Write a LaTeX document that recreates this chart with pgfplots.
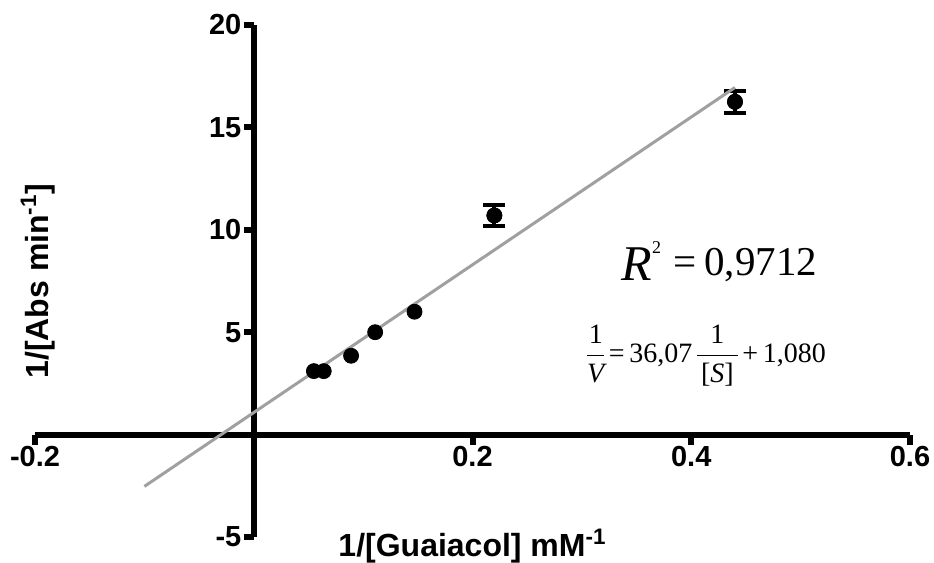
\documentclass[border=0pt]{standalone}
\usepackage{fontspec}
\setmainfont{Liberation Sans}
\newfontfamily\timesfont{Liberation Serif}
\usepackage{pgfplots}
\pgfplotsset{compat=1.18}
\definecolor{fitgray}{HTML}{A0A0A0}
\begin{document}
\begin{tikzpicture}
\useasboundingbox (-17.5pt,-13pt) rectangle (449.5pt,268.5pt);
\begin{axis}[
  width=437.5pt, height=256pt, scale only axis,
  axis lines=middle,
  axis line style={-, line width=3pt},
  xmin=-0.2, xmax=0.6, ymin=-5, ymax=20,
  xtick={-0.2,0,0.2,0.4,0.6},
  ytick={-5,0,5,10,15,20},
  tick align=outside,
  major tick length=5pt,
  tick style={line width=3pt, black},
  /pgf/number format/assume math mode=true,
  /pgf/number format/fixed,
  tick label style={font=\bfseries\fontsize{14.5}{16}\selectfont},
  xticklabel style={inner sep=0.5pt},
  yticklabel style={inner sep=1pt},
  every axis x label/.style={at={(axis description cs:0.5,0)}, anchor=base, yshift=-10pt},
  every axis y label/.style={at={(axis description cs:0,0.5)}, rotate=90, anchor=center, yshift=-1.5pt},
  label style={font=\bfseries\fontsize{16}{18}\selectfont},
  xlabel={1/[Guaiacol] mM\textsuperscript{-1}},
  ylabel={1/[Abs min\textsuperscript{-1}]},
  clip=false,
]
% mean values
\addplot[only marks, mark=*, mark size=3.75pt, black] coordinates {
  (0.055,3.10) (0.064,3.10) (0.089,3.85) (0.111,5.00) (0.147,6.00) (0.220,10.70) (0.440,16.25)
};
% points whose error bars are larger than the symbol
\addplot[only marks, mark=*, mark size=3.75pt, black,
  error bars/.cd, y dir=both, y explicit,
  error bar style={line width=2pt, black},
  error mark options={rotate=90, mark size=5.5pt, line width=2pt, black}]
  coordinates {
  (0.220,10.70) +- (0,0.52)
  (0.440,16.25) +- (0,0.55)
};
% linear fit 1/V = 36.07/[S] + 1.080
\addplot[fitgray, line width=1.5pt] coordinates {(-0.100,-2.53) (0.440,16.95)};
\node[font=\timesfont\fontsize{20.5}{24}\selectfont, anchor=base west, inner sep=0pt] at (axis cs:0.336,7.76)
  {\raisebox{-2.5pt}{\fontsize{25}{28}\selectfont\itshape R}\raisebox{11pt}{\fontsize{9}{10}\selectfont 2}\hspace{6pt}=\hspace{4pt}0,9712};
\node[font=\timesfont\fontsize{14}{17}\selectfont, anchor=center, inner sep=0pt] at (axis cs:0.414,3.85)
  {\nulldelimiterspace=0pt$\displaystyle\frac{\hbox{1}}{\hbox{\itshape V}}\hbox{\,=\,36,07\,}\frac{\hbox{1}}{\hbox{\hspace{2pt}[\itshape S\upshape]\hspace{2pt}}}\hbox{\,+\,1,080}$};
\end{axis}
\end{tikzpicture}
\end{document}
